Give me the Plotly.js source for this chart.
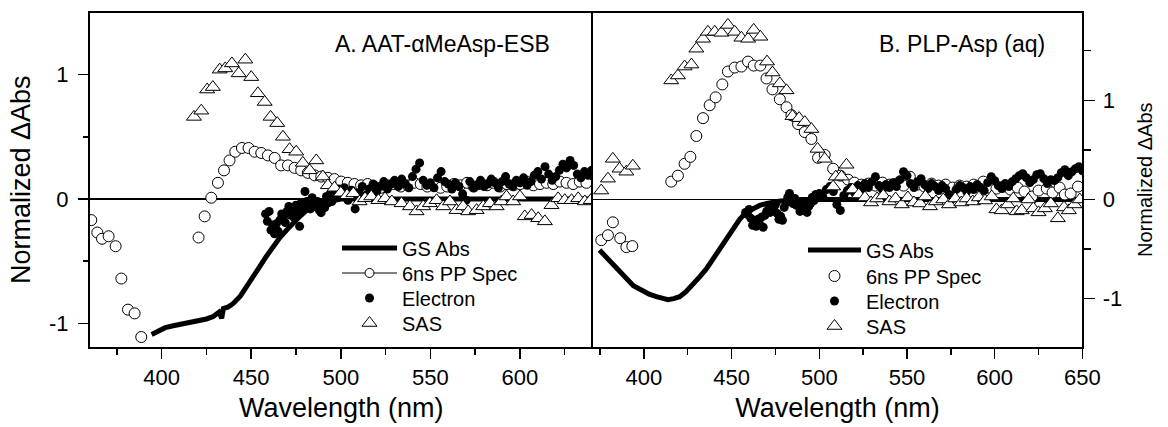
<!DOCTYPE html>
<html>
<head>
<meta charset="utf-8">
<script src="https://cdn.plot.ly/plotly-3.0.1.min.js"></script>
<style>html,body{margin:0;padding:0;background:#fff}#chart{width:1168px;height:427px}</style>
</head>
<body>
<div id="chart"></div>
<script>
// ---------- Panel A: AAT-αMeAsp-ESB ----------
const gsA_x = [394.4,397,399,402,406.5,410,414,418,421.4,425,428.8,432,433.5,434.5,437,440,444,447.4,451,454.9,458.5,462.3,466,469.8,473.5,477.2,481,484.6,488,492,496,500,520,560,600,640];
const gsA_y = [-1.09,-1.07,-1.05,-1.035,-1.02,-1.01,-1.0,-0.99,-0.98,-0.965,-0.945,-0.91,-0.96,-0.88,-0.87,-0.84,-0.78,-0.70,-0.62,-0.54,-0.46,-0.38,-0.31,-0.25,-0.19,-0.14,-0.09,-0.06,-0.035,-0.02,-0.01,0,0,0,0,0];

const ppA_x = [360.7,364.1,366.7,370.4,374.3,377.5,381.2,384.9,388.6,420.6,424,427.7,431.4,434.8,437.9,441.1,444.8,448.5,451.9,455.6,459.3,463.1,466.7,470.5,474.2,477.9,481.6,485.4,489.1,492.8,496.5,500.2,503.9,507.6,511.3,515,518.7,522.4,526.1,529.8,533.5,537.2,540.9,544.6,548.3,552,555.7,559.4,563.1,566.8,570.5,574.2,577.9,581.6,585.3,589,592.7,596.4,600.1,603.8,607.5,611.2,614.9,618.6,622.3,626,629.7,633.4,637.1];
const ppA_y = [-0.17,-0.27,-0.32,-0.30,-0.38,-0.64,-0.89,-0.92,-1.11,-0.31,-0.14,0.01,0.13,0.23,0.31,0.38,0.41,0.41,0.38,0.37,0.35,0.33,0.27,0.27,0.25,0.23,0.21,0.19,0.18,0.17,0.16,0.14,0.13,0.12,0.11,0.12,0.10,0.09,0.11,0.12,0.10,0.11,0.13,0.12,0.10,0.11,0.09,0.10,0.12,0.11,0.13,0.10,0.12,0.11,0.13,0.10,0.12,0.11,0.12,0.14,0.11,0.12,0.13,0.12,0.14,0.13,0.12,0.14,0.13];

const elA_x = [458,459,460,461,462,463,464,465,466,467,468,469,470,471,472,473,474,475,476,477,478,479,480,481,482,483,484,485,486,487,488,489,490,491,492,493,494,495,496,497,498,499,500,502,504,506,508,510,512,514,516,518,520,522,524,526,528,530,532,534,536,538,540,542,544,546,548,550,552,554,556,558,560,562,564,566,568,570,572,574,576,578,580,582,584,586,588,590,592,594,596,598,600,602,604,606,608,610,612,614,616,618,620,622,624,626,628,630,632,634,636,638,640];
const elA_y = [-0.12,-0.18,-0.10,-0.25,-0.21,-0.28,-0.20,-0.26,-0.17,-0.12,-0.14,-0.19,-0.10,-0.06,-0.13,-0.09,-0.15,-0.05,-0.11,-0.22,-0.03,-0.07,0.06,-0.02,-0.05,-0.08,0.01,-0.06,-0.03,-0.02,-0.09,-0.11,-0.04,-0.07,0.02,-0.03,0.04,-0.02,0.03,0.06,0.01,0.08,0.04,0.09,-0.01,0.07,-0.08,0.05,0.10,0.03,0.08,0.12,0.06,0.10,0.14,0.08,0.12,0.15,0.10,0.16,0.12,0.09,0.18,0.24,0.29,0.15,0.11,0.13,0.09,0.17,0.22,0.14,0.12,0.08,0.13,0.10,0.04,-0.01,0.14,0.09,0.11,0.15,0.10,0.12,0.16,0.13,0.09,0.14,0.18,0.12,0.10,0.15,0.13,0.17,0.11,0.14,0.19,0.22,0.16,0.26,0.20,0.15,0.18,0.23,0.28,0.25,0.31,0.27,0.20,0.17,0.22,0.19,0.23];

const sasA_x = [418,422.1,425.4,428.6,432.4,435.5,439.2,443,446.7,450,453.7,457.5,460.8,464.5,467.7,471.4,475.1,478.8,482.6,486.3,490,492.8,496.5,500,503.5,507,510.5,513.5,517,521,524.7,528.5,533.9,538.6,542.3,546,549.7,553.5,557.2,560.9,564.6,568.3,571.1,575.8,579.5,583.2,587,589.7,592.5,596.2,600,602.7,606.5,610.2,613.9,617.6,621.3,625,628.8,632.5,636.2,639.5];
const sasA_y = [0.66,0.71,0.88,0.90,1.04,1.05,1.09,1.01,1.12,0.98,0.85,0.78,0.66,0.61,0.50,0.40,0.38,0.29,0.23,0.31,0.18,0.11,0.09,0.05,0.03,0.045,-0.02,0.005,0.02,-0.01,0.005,-0.02,-0.035,-0.06,-0.10,-0.06,-0.035,-0.01,-0.06,-0.02,-0.09,-0.06,-0.10,-0.09,-0.06,-0.035,-0.06,-0.02,0.02,-0.02,0.02,-0.14,-0.13,-0.155,-0.18,-0.05,0.005,-0.01,-0.01,0.005,-0.02,-0.01];

// ---------- Panel B: PLP-Asp (aq) ----------
const gsB_x = [374.7,378,382,386,390,394,399.4,403,407.1,410.5,413.7,417,420.4,424,428,431.8,435.6,439.4,443.2,447,450.8,454.6,458.4,462,466,470,473.6,478,483.2,490,530,590,650];
const gsB_y = [-0.51,-0.57,-0.65,-0.73,-0.80,-0.87,-0.92,-0.955,-0.98,-1.0,-1.01,-1.0,-0.98,-0.93,-0.86,-0.78,-0.70,-0.60,-0.50,-0.39,-0.29,-0.20,-0.13,-0.09,-0.06,-0.04,-0.025,-0.015,-0.01,0,0,0,0];

const ppB_x = [375.7,379.5,382.3,386.5,390,393.4,415.6,419.4,423.2,426.5,429.9,433.7,437.5,440.9,444.7,447.9,451.8,455.6,459.4,462.6,466.4,469.9,473.3,477.5,481.3,484.1,487.9,491.7,495.5,499.3,503.1,507.9,512,516.4,520,524,528,532,536,540,544,548,551.6,556,560,564,568,572,576,580,584,588,593.5,597,601,605,609,613,617,621.3,625,629.7,633,637,640,643.3,647.5];
const ppB_y = [-0.41,-0.36,-0.23,-0.39,-0.48,-0.47,0.18,0.24,0.36,0.43,0.64,0.82,0.95,1.03,1.16,1.29,1.33,1.34,1.39,1.35,1.35,1.22,1.11,1.01,0.93,0.85,0.76,0.68,0.61,0.42,0.45,0.31,0.24,0.20,0.17,0.15,0.16,0.14,0.17,0.15,0.16,0.14,0.23,0.15,0.13,0.16,0.14,0.15,0.12,0.14,0.13,0.15,0.18,0.12,0.11,0.13,0.10,0.12,0.08,0.03,0.09,0.11,0.07,0.12,0.05,0.06,0.13];

const elB_x = [458,459,460,461,462,463,464,465,466,467,468,469,470,471,472,473,474,475,476,477,478,479,480,481,482,483,484,485,486,487,488,489,490,491,492,493,494,495,496,497,498,499,500,502,504,506,508,510,512,514,516,518,520,522,524,526,528,530,532,534,536,538,540,542,544,546,548,550,552,554,556,558,560,562,564,566,568,570,572,574,576,578,580,582,584,586,588,590,592,594,596,598,600,602,604,606,608,610,612,614,616,618,620,622,624,626,628,630,632,634,636,638,640,642,644,646,648,650];
const elB_y = [-0.13,-0.15,-0.10,-0.19,-0.26,-0.22,-0.27,-0.20,-0.25,-0.18,-0.28,-0.16,-0.12,-0.10,-0.13,-0.07,-0.09,-0.05,-0.14,-0.20,-0.17,-0.21,-0.08,-0.03,0.02,0.06,-0.02,-0.04,0.01,-0.06,-0.03,-0.12,-0.10,-0.05,-0.02,-0.13,-0.07,-0.04,0.02,-0.01,0.05,0.03,0.06,0.03,0.10,0.13,0.08,-0.05,-0.11,0.04,0.09,0.12,0.07,0.14,0.10,0.16,0.12,0.18,0.23,0.14,0.10,0.15,0.12,0.17,0.13,0.20,0.28,0.24,0.16,0.12,0.18,0.21,0.15,0.11,0.16,0.13,0.09,0.14,0.11,0.05,0.01,0.10,0.14,0.12,0.08,0.13,0.10,0.15,0.12,0.09,0.17,0.23,0.19,0.14,0.11,0.16,0.13,0.18,0.21,0.24,0.26,0.22,0.17,0.20,0.25,0.26,0.21,0.16,0.20,0.19,0.22,0.27,0.30,0.24,0.28,0.31,0.33,0.29];

const sasB_x = [375.7,379.5,382.3,386.1,390,393.7,415.6,419.4,423.2,427.1,429.9,433.7,436.5,440.4,444.2,447.9,451.8,455.6,459.4,462.6,466.4,470.2,473.3,477.5,481.3,484.7,488.5,491.7,495.5,499,503.1,507.9,509.4,512.7,515.5,519,522.5,526,529.5,533,536.5,540,543.5,547,550.5,554,557.4,560.5,563.1,566.5,570.7,574,577.5,581,584,587.5,591,594.5,598.3,601,604,607.5,610.6,612.5,615.4,619.2,622,625,628.6,632,636,639.5,642.3,645.5,648.5];
const sasB_y = [0.09,0.21,0.41,0.31,0.28,0.34,1.20,1.25,1.34,1.36,1.52,1.62,1.69,1.69,1.68,1.76,1.69,1.63,1.62,1.71,1.64,1.39,1.28,1.17,1.10,0.84,0.82,0.78,0.71,0.51,0.41,0.13,0.23,0.23,0.35,0.10,0.05,0.02,-0.03,0.01,0.04,-0.02,0.01,-0.05,0.02,-0.03,-0.04,0.03,-0.07,-0.02,0.0,-0.05,0.01,-0.03,0.01,-0.02,0.02,-0.01,0.03,-0.10,-0.11,-0.05,0.01,-0.12,-0.11,0.0,-0.09,-0.13,-0.09,-0.04,-0.19,-0.08,-0.11,-0.05,0.0];

// ---------- labels ----------
const seriesNames = ['GS Abs','6ns PP Spec','Electron','SAS'];
const xTitle = 'Wavelength (nm)';
const yTitle = 'Normalized \u0394Abs';
const panelA = 'A. AAT-\u03b1MeAsp-ESB';
const panelB = 'B. PLP-Asp (aq)';
const xTickVals = [400,450,500,550,600,650];
const xTickText = ['400','450','500','550','600','650'];
const xMinorVals = [375,425,475,525,575,625];
const yTickVals = [-1,0,1];
const yTickText = ['-1','0','1'];
const yMinorVals = [-1.5,-0.5,0.5,1.5];

const FAM = 'Liberation Sans, Arial, sans-serif';
const W = 1168, H = 427;
const px = v => v / W, py = v => 1 - v / H;

const circ = {symbol:'circle', size:11, color:'#ffffff', line:{color:'#000', width:1}};
const tri  = {symbol:'triangle-up', size:13, color:'#ffffff', line:{color:'#000', width:1}};
const dot  = {symbol:'circle', size:9, color:'#000', line:{width:0}};

const traces = [
  {x:gsA_x, y:gsA_y, xaxis:'x', yaxis:'y', mode:'lines', line:{color:'#000', width:5}, name:seriesNames[0], legend:'legend'},
  {x:ppA_x, y:ppA_y, xaxis:'x', yaxis:'y', mode:'markers', marker:circ, name:seriesNames[1], showlegend:false},
  {x:[null], y:[null], xaxis:'x', yaxis:'y', mode:'lines+markers', line:{color:'#000', width:1}, marker:{symbol:'circle', size:9, color:'#fff', line:{color:'#000', width:1}}, name:seriesNames[1], legend:'legend2'},
  {x:elA_x, y:elA_y, xaxis:'x', yaxis:'y', mode:'markers', marker:dot, name:seriesNames[2], legend:'legend3'},
  {x:sasA_x, y:sasA_y, xaxis:'x', yaxis:'y', mode:'markers', marker:tri, name:seriesNames[3], legend:'legend4'},

  {x:gsB_x, y:gsB_y, xaxis:'x2', yaxis:'y2', mode:'lines', line:{color:'#000', width:5}, name:seriesNames[0], legend:'legend5'},
  {x:ppB_x, y:ppB_y, xaxis:'x2', yaxis:'y2', mode:'markers', marker:circ, name:seriesNames[1], legend:'legend6'},
  {x:elB_x, y:elB_y, xaxis:'x2', yaxis:'y2', mode:'markers', marker:dot, name:seriesNames[2], legend:'legend7'},
  {x:sasB_x, y:sasB_y, xaxis:'x2', yaxis:'y2', mode:'markers', marker:tri, name:seriesNames[3], legend:'legend8'}
];

const tickFont = {family:FAM, size:22, color:'#000'};
const baseX = {
  showgrid:false, zeroline:false, showline:true, linecolor:'#000', linewidth:2, mirror:true,
  ticks:'outside', ticklen:10, tickwidth:1.5, tickcolor:'#000', tickfont:tickFont,
  tickmode:'array', tickvals:xTickVals, ticktext:xTickText,
  minor:{tickmode:'array', tickvals:xMinorVals, ticks:'outside', ticklen:6, tickwidth:1.5, tickcolor:'#000', showgrid:false},
  title:{text:xTitle, font:{family:FAM, size:27, color:'#000'}, standoff:9},
  automargin:false, fixedrange:true
};
const baseY = {
  showgrid:false, zeroline:true, zerolinecolor:'#000', zerolinewidth:1.5,
  showline:true, linecolor:'#000', linewidth:2,
  ticks:'outside', ticklen:10, tickwidth:1.5, tickcolor:'#000', tickfont:tickFont,
  tickmode:'array', tickvals:yTickVals, ticktext:yTickText,
  minor:{tickmode:'array', tickvals:yMinorVals, ticks:'outside', ticklen:5, tickwidth:1.5, tickcolor:'#000', showgrid:false},
  automargin:false, fixedrange:true
};

function leg(xp, yp, iw) {
  return {x:px(xp), y:py(yp), xanchor:'left', yanchor:'middle', bgcolor:'rgba(0,0,0,0)', borderwidth:0,
          font:{family:FAM, size:20, color:'#000'}, itemwidth:iw, tracegroupgap:0};
}

const yDom = [1 - 346.7/H, 1 - 12.7/H];
const layout = {
  width:W, height:H, margin:{l:0, r:0, t:0, b:0},
  paper_bgcolor:'#fff', plot_bgcolor:'rgba(0,0,0,0)',
  font:{family:FAM, color:'#000'},
  xaxis: Object.assign({}, baseX, {domain:[px(90), px(592.5)], range:[360, 640.5], anchor:'y'}),
  yaxis: Object.assign({}, baseY, {domain:yDom, range:[-1.188, 1.498], anchor:'x', mirror:false, ticklabelstandoff:5,
          title:{text:yTitle, font:{family:FAM, size:27, color:'#000'}, standoff:11}}),
  xaxis2: Object.assign({}, baseX, {domain:[px(592.5), px(1082.4)], range:[370.7, 650], anchor:'y2'}),
  yaxis2: Object.assign({}, baseY, {domain:yDom, range:[-1.484, 1.883], anchor:'x2', side:'right', mirror:true, ticklen:11, ticklabelstandoff:3,
          minor:Object.assign({}, baseY.minor, {ticklen:7}),
          title:{text:yTitle, font:{family:FAM, size:20, color:'#000'}, standoff:17}}),
  legend:  leg(337, 248, 55),
  legend2: leg(337, 273, 55),
  legend3: leg(337, 298, 55),
  legend4: leg(337, 323, 55),
  legend5: leg(803, 250, 53),
  legend6: leg(803, 276, 53),
  legend7: leg(803, 301, 53),
  legend8: leg(803, 326, 53),
  annotations:[
    {text:panelA, xref:'paper', yref:'paper', x:px(442), y:py(43.5), xanchor:'center', yanchor:'middle', showarrow:false, font:{family:FAM, size:23, color:'#000'}},
    {text:panelB, xref:'paper', yref:'paper', x:px(962), y:py(44), xanchor:'center', yanchor:'middle', showarrow:false, font:{family:FAM, size:23, color:'#000'}}
  ],
  showlegend:true
};

Plotly.newPlot('chart', traces, layout, {displayModeBar:false, staticPlot:true});
</script>
</body>
</html>
